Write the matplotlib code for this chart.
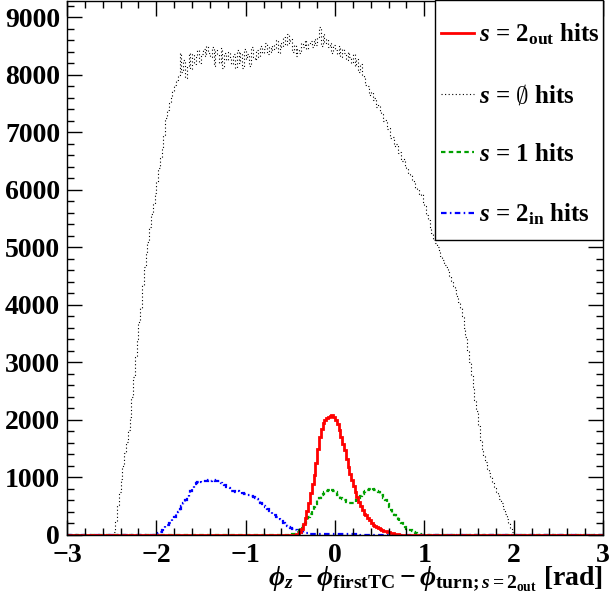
import numpy as np
import matplotlib
matplotlib.use('Agg')
import matplotlib.pyplot as plt
from matplotlib.ticker import MultipleLocator
from matplotlib.patches import Rectangle

plt.rcParams['font.family'] = ['Liberation Serif', 'DejaVu Serif']
plt.rcParams['font.weight'] = 'bold'
plt.rcParams['mathtext.fontset'] = 'custom'
plt.rcParams['mathtext.rm'] = 'Liberation Serif:bold'
plt.rcParams['mathtext.it'] = 'Liberation Serif:bold:italic'
plt.rcParams['mathtext.bf'] = 'Liberation Serif:bold'
plt.rcParams['mathtext.sf'] = 'DejaVu Serif:bold'

# histogram binning: 300 bins in [-3, 3]
x_min, x_max, n_bins = -3.0, 3.0, 300

# s = 2_out hits (first bin edge, counts)
red_start = -0.46
red_counts = [
    5, 10, 25, 50, 100, 190, 300, 420, 560, 730,
    880, 1050, 1250, 1500, 1700, 1850, 1950, 2000, 2030, 2050,
    2060, 2080, 2050, 2000, 1920, 1820, 1700, 1580, 1470, 1320,
    1180, 1060, 950, 850, 750, 660, 580, 500, 430, 370,
    340, 300, 255, 215, 180, 150, 130, 115, 100, 85,
    72, 62, 52, 45, 36, 28, 20, 14, 9, 5,
    3,
]

# s = empty-set hits
black_start = -2.48
black_counts = [
    60, 250, 520, 740, 980, 1200, 1420, 1620, 1830, 2050,
    2400, 2750, 3100, 3400, 3700, 3950, 4350, 4650, 4900, 5100,
    5350, 5580, 5760, 5950, 6130, 6380, 6550, 6700, 6950, 7250,
    7380, 7500, 7620, 7720, 7820, 7900, 8000, 8380, 8050, 8250,
    7950, 8150, 8380, 8100, 8350, 8180, 8300, 8420, 8200, 8350,
    8450, 8320, 8500, 8380, 8300, 8480, 8150, 8420, 8350, 8200,
    8460, 8120, 8380, 8250, 8400, 8300, 8180, 8350, 8120, 8420,
    8200, 8380, 8110, 8450, 8280, 8350, 8150, 8480, 8300, 8250,
    8420, 8300, 8500, 8380, 8450, 8550, 8350, 8480, 8400, 8520,
    8450, 8600, 8380, 8550, 8480, 8650, 8520, 8700, 8550, 8620,
    8400, 8520, 8320, 8450, 8380, 8550, 8480, 8600, 8450, 8530,
    8580, 8480, 8620, 8520, 8650, 8830, 8500, 8700, 8550, 8620,
    8480, 8550, 8380, 8520, 8420, 8350, 8500, 8300, 8450, 8380,
    8250, 8400, 8300, 8200, 8350, 8150, 8280, 8050, 8180, 8000,
    7950, 7820, 7800, 7650, 7700, 7560, 7600, 7430, 7480, 7350,
    7320, 7200, 7220, 7060, 7080, 6900, 6920, 6760, 6800, 6640,
    6650, 6500, 6530, 6400, 6380, 6280, 6260, 6150, 6130, 6030,
    6020, 5900, 5920, 5780, 5720, 5560, 5480, 5320, 5250, 5120,
    5080, 5000, 4930, 4850, 4780, 4700, 4660, 4580, 4500, 4420,
    4330, 4250, 4150, 4050, 3950, 3800, 3600, 3440, 3200, 3000,
    2780, 2570, 2350, 2150, 1900, 1650, 1500, 1380, 1260, 1150,
    1080, 1000, 900, 820, 750, 690, 630, 550, 460, 360,
    280, 200, 120, 60, 20,
]

# s = 1 hits
green_start = -0.50
green_counts = [
    5, 10, 20, 40, 60, 90, 120, 160, 200, 250,
    310, 370, 420, 480, 540, 600, 650, 690, 720, 750,
    770, 785, 800, 790, 770, 740, 700, 680, 650, 620,
    600, 580, 560, 560, 550, 560, 570, 600, 640, 680,
    720, 750, 770, 790, 800, 810, 800, 790, 770, 740,
    720, 690, 650, 600, 540, 490, 440, 390, 350, 310,
    270, 230, 200, 170, 130, 110, 95, 80, 65, 50,
    35, 22, 12, 5,
]

# s = 2_in hits
blue_start = -2.00
blue_counts = [
    10, 30, 60, 90, 120, 150, 180, 210, 250, 290,
    320, 360, 400, 450, 500, 560, 610, 660, 710, 760,
    820, 880, 910, 920, 930, 920, 935, 940, 930, 950,
    945, 960, 950, 940, 930, 935, 910, 890, 860, 840,
    820, 790, 770, 760, 750, 760, 740, 750, 730, 720,
    710, 700, 690, 670, 660, 640, 620, 590, 560, 530,
    500, 480, 450, 420, 400, 370, 340, 320, 290, 270,
    240, 210, 190, 160, 140, 120, 100, 90, 80, 70,
    60, 50, 42, 36, 32, 28, 25, 24, 22, 21,
    20, 20, 18, 18, 18, 17, 16, 16, 15, 15,
    15, 14, 14, 13, 13, 12, 12, 12, 11, 11,
    10, 10, 9, 9, 8, 8, 7, 7, 6, 5,
    5, 4, 3, 2, 1,
]

labels = [r'$s$ = $2_{\mathrm{out}}$ hits', r'$s$ = $\mathsf{\emptyset}$ hits',
          r'$s$ = 1 hits', r'$s$ = $2_{\mathrm{in}}$ hits']

edges = np.linspace(x_min, x_max, n_bins + 1)
width = (x_max - x_min) / n_bins


def full_hist(start, counts):
    h = np.zeros(n_bins)
    i0 = int(round((start - x_min) / width))
    h[i0:i0 + len(counts)] = counts
    return h


fig = plt.figure(figsize=(6.12, 6.08), dpi=100)
ax = fig.add_axes([0.1095, 0.1201, 0.8758, 0.8783])

l_black = ax.stairs(full_hist(black_start, black_counts), edges, color='black',
                    lw=0.8, linestyle=(0, (1, 2.2)))
l_green = ax.stairs(full_hist(green_start, green_counts), edges, color='#00a000',
                    lw=1.6, linestyle=(0, (2, 1.5)))
l_blue = ax.stairs(full_hist(blue_start, blue_counts), edges, color='#0000ff',
                   lw=1.6, linestyle=(0, (2.5, 1.5, 0.7, 1.5)))
l_red = ax.stairs(full_hist(red_start, red_counts), edges, color='#ff0000', lw=2.0)

ax.set_xlim(x_min, x_max)
ax.set_ylim(0, 9280)
ax.xaxis.set_major_locator(MultipleLocator(1))
ax.xaxis.set_minor_locator(MultipleLocator(0.2))
ax.yaxis.set_major_locator(MultipleLocator(1000))
ax.yaxis.set_minor_locator(MultipleLocator(200))
ax.tick_params(which='both', direction='in', top=True, right=True, width=1,
               labelsize=20)
ax.tick_params(which='major', length=11)
ax.tick_params(which='minor', length=5)
ax.tick_params(axis='x', pad=6)
ax.tick_params(axis='y', pad=5)
for sp in ax.spines.values():
    sp.set_linewidth(1)

ax.set_xlabel(r'$\phi_{z} - \phi_{\mathrm{firstTC}} - \phi_{\mathrm{turn;}s\mathrm{=}2_{\mathrm{out}}}$ [rad]',
              fontsize=20, fontweight='bold', loc='right', labelpad=-3)

# legend box
ax.add_patch(Rectangle((0.6866, 0.5524), 0.3134, 0.4495, transform=ax.transAxes,
                       facecolor='white', edgecolor='black', lw=1,
                       clip_on=False, zorder=5))
leg = ax.legend([l_red, l_black, l_green, l_blue], labels, loc='upper left',
                bbox_to_anchor=(0.6978, 0.962), borderaxespad=0, borderpad=0,
                fontsize=18, frameon=False, handlelength=1.3,
                handletextpad=0.2, labelspacing=1.42)
leg.set_zorder(6)

fig.savefig('out.png', dpi=100)
